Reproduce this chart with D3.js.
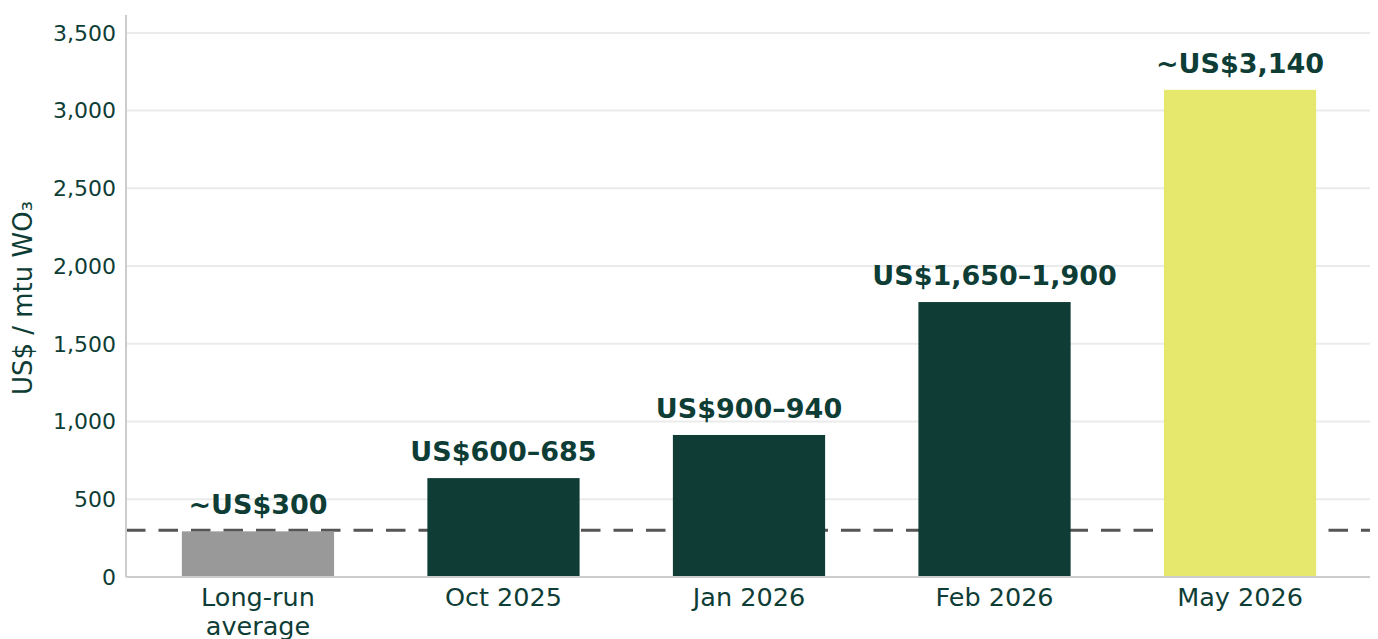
<!DOCTYPE html>
<html>
<head>
<meta charset="utf-8">
<script src="https://cdn.jsdelivr.net/npm/d3@7"></script>
<style>
  body { margin: 0; background: #fff; }
  text { font-family: "DejaVu Sans", sans-serif; fill: #0e3d36; }
</style>
</head>
<body>
<div id="chart"></div>
<script>
// chart data
const categories = ["Long-run\naverage", "Oct 2025", "Jan 2026", "Feb 2026", "May 2026"];
const values = [300, 642.5, 920, 1775, 3140];
const valueLabels = ["~US$300", "US$600–685", "US$900–940", "US$1,650–1,900", "~US$3,140"];
const barColors = ["#999999", "#0f3d36", "#0f3d36", "#0f3d36", "#e5e86d"];
const yTicks = [0, 500, 1000, 1500, 2000, 2500, 3000, 3500];
const referenceLine = 300;

const width = 1378, height = 639;
const margin = {top: 15, right: 6, bottom: 62, left: 126};

const svg = d3.select("#chart").append("svg")
    .attr("width", width)
    .attr("height", height);

const x = d3.scaleBand()
    .domain(categories)
    .range([margin.left, width - margin.right])
    .paddingInner(0.38)
    .paddingOuter(0.2275);

const y = d3.scaleLinear()
    .domain([0, 3615])
    .range([height - margin.bottom, margin.top]);

// gridlines
svg.append("g")
    .selectAll("line")
    .data(yTicks.filter(d => d > 0))
    .enter().append("line")
    .attr("x1", margin.left)
    .attr("x2", width - 8)
    .attr("y1", d => y(d))
    .attr("y2", d => y(d))
    .attr("stroke", "#ebebeb")
    .attr("stroke-width", 2);

// long-run reference line (sits behind the bars)
svg.append("line")
    .attr("x1", margin.left)
    .attr("x2", width - 8)
    .attr("y1", y(referenceLine))
    .attr("y2", y(referenceLine))
    .attr("stroke", "#555555")
    .attr("stroke-width", 3)
    .attr("stroke-dasharray", "19.5,13");

// bars
svg.append("g")
    .selectAll("rect")
    .data(values)
    .enter().append("rect")
    .attr("x", (d, i) => x(categories[i]))
    .attr("y", d => y(d) + 1)
    .attr("width", x.bandwidth())
    .attr("height", d => y(0) - y(d) - 1)
    .attr("fill", (d, i) => barColors[i]);

// value labels
svg.append("g")
    .selectAll("text")
    .data(valueLabels)
    .enter().append("text")
    .attr("x", (d, i) => x(categories[i]) + x.bandwidth() / 2)
    .attr("y", (d, i) => y(values[i]) - 16)
    .attr("text-anchor", "middle")
    .style("font-size", "27px")
    .style("font-weight", "bold")
    .text(d => d);

// axes lines
svg.append("line")
    .attr("x1", margin.left).attr("x2", margin.left)
    .attr("y1", margin.top).attr("y2", y(0))
    .attr("stroke", "#cccccc").attr("stroke-width", 2);
svg.append("line")
    .attr("x1", margin.left).attr("x2", width - 8)
    .attr("y1", y(0)).attr("y2", y(0))
    .attr("stroke", "#cccccc").attr("stroke-width", 2);

// y tick labels
svg.append("g")
    .selectAll("text")
    .data(yTicks)
    .enter().append("text")
    .attr("x", margin.left - 10)
    .attr("y", d => y(d))
    .attr("dy", "0.35em")
    .attr("text-anchor", "end")
    .style("font-size", "22px")
    .text(d => d3.format(",")(d));

// x labels (multi-line)
const xl = svg.append("g")
    .selectAll("text")
    .data(categories)
    .enter().append("text")
    .attr("x", d => x(d) + x.bandwidth() / 2)
    .attr("y", y(0) + 29)
    .attr("text-anchor", "middle")
    .style("font-size", "25.5px");
xl.each(function(d) {
    const t = d3.select(this);
    d.split("\n").forEach((line, i) => {
        t.append("tspan")
            .attr("x", t.attr("x"))
            .attr("dy", i === 0 ? 0 : 29)
            .text(line);
    });
});

// y axis title
svg.append("text")
    .attr("transform", "translate(32, 298) rotate(-90)")
    .attr("text-anchor", "middle")
    .style("font-size", "26px")
    .text("US$ / mtu WO₃");
</script>
</body>
</html>
